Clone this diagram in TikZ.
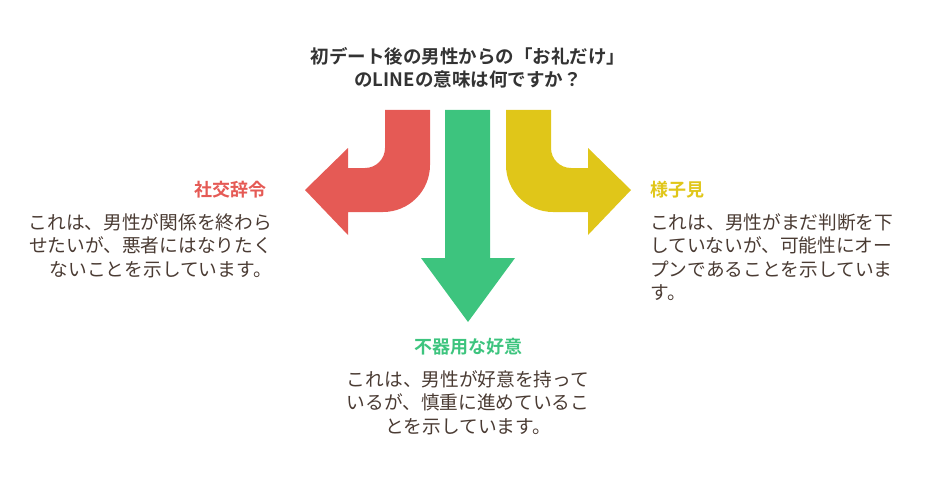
\documentclass[tikz,border=0pt]{standalone}
\usepackage{fontspec}
\setmainfont{Noto Sans CJK JP}
\newfontfamily\cjkb{Noto Sans CJK JP Bold}
\definecolor{cred}{HTML}{E55A55}
\definecolor{cgreen}{HTML}{3DC47E}
\definecolor{cyel}{HTML}{E0C619}
\definecolor{ctxt}{HTML}{4A3B33}
\definecolor{ctitle}{HTML}{333333}
\begin{document}
\begin{tikzpicture}[x=1pt,y=-1pt,
  body/.style={text=ctxt,font=\fontsize{18.7}{23.5}\selectfont,inner sep=0pt},
  head/.style={font=\fontsize{18}{23}\selectfont,inner sep=0pt}]
\useasboundingbox (0,0) rectangle (936,492);
% red
\fill[cred] (430,110) -- (430,165) arc[start angle=0,end angle=90,radius=47] -- (348,212) -- (348,235) -- (305,190) -- (348,148) -- (348,168) -- (365,168) arc[start angle=90,end angle=0,radius=20] -- (385,110) -- cycle;
% yellow
\fill[cyel] (506,110) -- (506,165) arc[start angle=180,end angle=90,radius=47] -- (588,212) -- (588,235) -- (631,190) -- (588,148) -- (588,168) -- (571,168) arc[start angle=90,end angle=180,radius=20] -- (551,110) -- cycle;
% green
\fill[cgreen] (445,110) -- (490,110) -- (490,258) -- (515,258) -- (468,322) -- (421,258) -- (445,258) -- cycle;
\node[head,text=ctitle,align=center,font=\fontsize{18.5}{23}\selectfont] (title) at (468,68) {\cjkb 初デート後の男性からの「お礼だけ」\\[0pt]\cjkb のLINEの意味は何ですか？};
\node[head,text=cred,anchor=east] (h1) at (267,190) {\cjkb 社交辞令};
\node[body,anchor=north east,align=right] (b1) at (272,213) {これは、男性が関係を終わら\\せたいが、悪者にはなりたく\\ないことを示しています。};
\node[head,text=cgreen] (h2) at (468,347) {\cjkb 不器用な好意};
\node[body,anchor=north,align=center] (b2) at (468,370) {これは、男性が好意を持って\\いるが、慎重に進めているこ\\とを示しています。};
\node[head,text=cyel,anchor=west] (h3) at (650,190) {\cjkb 様子見};
\node[body,anchor=north west,align=left] (b3) at (650,213) {これは、男性がまだ判断を下\\していないが、可能性にオー\\プンであることを示していま\\す。};
\end{tikzpicture}
\end{document}
